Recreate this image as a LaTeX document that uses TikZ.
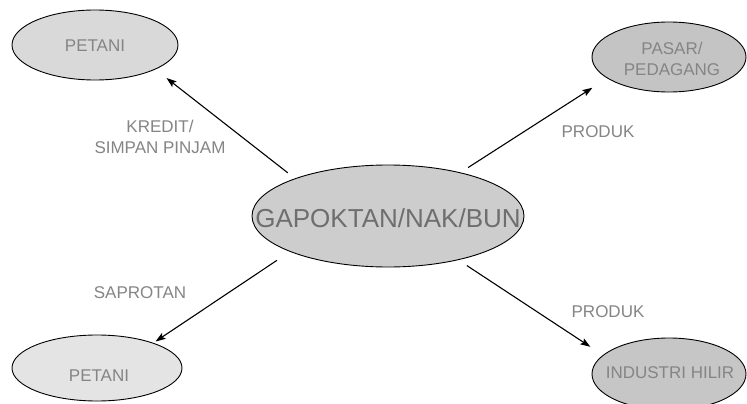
\documentclass[tikz,border=0pt]{standalone}
\usepackage{fontspec}
\setmainfont{Liberation Sans}
\usetikzlibrary{shapes.geometric,arrows.meta}
\definecolor{fillA}{HTML}{D9D9D9}
\definecolor{fillB}{HTML}{C4C4C4}
\definecolor{fillC}{HTML}{CDCDCD}
\definecolor{fillD}{HTML}{E4E4E4}
\definecolor{fillE}{HTML}{C6C6C6}
\definecolor{labelgray}{HTML}{858585}
\definecolor{centergray}{HTML}{6E6E6E}
\begin{document}
\begin{tikzpicture}[x=1pt,y=-1pt,
  bub/.style={ellipse,draw=black,line width=0.9pt,inner sep=0pt},
  lbl/.style={text=labelgray,font=\fontsize{17}{21}\selectfont,align=center,inner sep=0pt},
  ctxt/.style={text=centergray,font=\fontsize{26}{30}\selectfont,inner sep=0pt},
  flow/.style={draw=black,line width=1.1pt,-{Stealth[length=10pt,width=7pt,inset=2pt]}}]
\useasboundingbox[fill=white] (0,0) rectangle (747,404);

% ellipses
\node[bub,fill=fillA,minimum width=166,minimum height=70] (p1) at (95,45) {};
\node[bub,fill=fillB,minimum width=154,minimum height=70] (p2) at (669,57) {};
\node[bub,fill=fillD,minimum width=170,minimum height=66] (p3) at (97,368) {};
\node[bub,fill=fillE,minimum width=154,minimum height=72] (p4) at (669,374) {};
\node[bub,fill=fillC,minimum width=272,minimum height=102] (c) at (388,216) {};

% texts in ellipses
\node[lbl] (t1) at (95,46) {PETANI};
\node[lbl] (t2) at (672,59) {PASAR/\\PEDAGANG};
\node[lbl] (t3) at (99,376) {PETANI};
\node[lbl] (t4) at (670,373) {INDUSTRI HILIR};
\node[ctxt] (tc) at (388,218) {GAPOKTAN/NAK/BUN};

% edge labels
\node[lbl] (l1) at (160,137) {KREDIT/\\SIMPAN PINJAM};
\node[lbl] (l2) at (598,132) {PRODUK};
\node[lbl] (l3) at (140,293) {SAPROTAN};
\node[lbl] (l4) at (608,312) {PRODUK};

% connectors
\draw[flow,shorten <=9pt,shorten >=14pt] (c.158) -- (p1.-22.6);
\draw[flow,shorten <=9pt,shorten >=17.5pt] (c.31) -- (p2.-161.8);
\draw[flow,shorten <=15.5pt,shorten >=2.6pt] (c.-160) -- (p3.24.1);
\draw[flow,shorten <=10pt,shorten >=15pt] (c.-32) -- (p4.164.8);
\end{tikzpicture}
\end{document}
